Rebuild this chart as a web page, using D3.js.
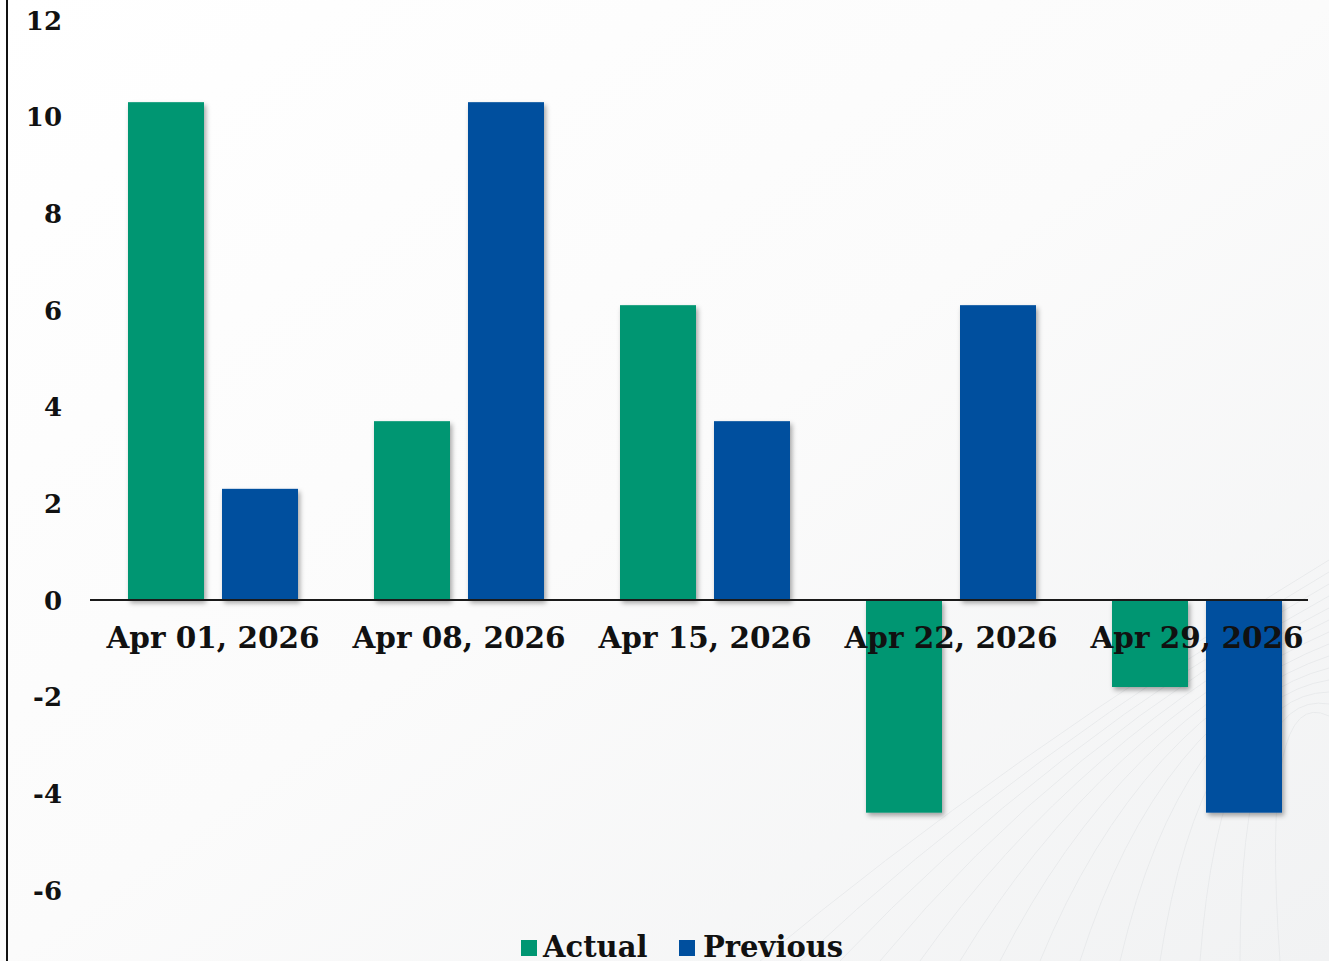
<!DOCTYPE html>
<html><head><meta charset="utf-8">
<script src="https://cdn.jsdelivr.net/npm/d3@7"></script>
<style>html,body{margin:0;padding:0;background:#fff;overflow:hidden}</style>
</head><body>
<svg id="c" width="1329" height="961"></svg>
<script>
const categories = ["Apr 01, 2026","Apr 08, 2026","Apr 15, 2026","Apr 22, 2026","Apr 29, 2026"];
const seriesNames = ["Actual","Previous"];
const actual = [10.3, 3.7, 6.1, -4.4, -1.8];
const previous = [2.3, 10.3, 3.7, 6.1, -4.4];
const yTicks = [12,10,8,6,4,2,0,-2,-4,-6];
const colors = ["#009672","#004f9e"];

const W=1329,H=961;
const svg=d3.select("#c");
const defs=svg.append("defs");
const g1=defs.append("linearGradient").attr("id","bg").attr("x1","0").attr("y1","0").attr("x2","1").attr("y2","1");
g1.append("stop").attr("offset","0").attr("stop-color","#ffffff");
g1.append("stop").attr("offset","0.5").attr("stop-color","#fbfbfb");
g1.append("stop").attr("offset","1").attr("stop-color","#f1f2f3");
const f=defs.append("filter").attr("id","sh").attr("x","-20%").attr("y","-20%").attr("width","150%").attr("height","150%");
f.append("feDropShadow").attr("dx",2).attr("dy",3).attr("stdDeviation",2.5).attr("flood-color","#000").attr("flood-opacity",0.35);

svg.append("rect").attr("width",W).attr("height",H).attr("fill","url(#bg)");
const deco=svg.append("g").attr("fill","none").attr("stroke","#e4e6e8").attr("stroke-width",1).attr("opacity",0.7);
for(let i=0;i<14;i++){
  deco.append("path").attr("d",`M${760+i*40},${961} Q${1000+i*20},${760-i*6} ${1329},${560+i*12}`);
}

const data = seriesNames.map((s,i)=>({name:s, values: i===0?actual:previous}));
const x0=d3.scaleBand().domain(categories).range([90,1320]).paddingInner(0).paddingOuter(0);
const x1=d3.scaleBand().domain(seriesNames).range([38,208]).paddingInner(0.1915).paddingOuter(0);
const y=d3.scaleLinear().domain([-6,12]).range([890,20]);
const font='"DejaVu Serif", Georgia, serif';

const gb=svg.append("g");
categories.forEach((c,ci)=>{
  data.forEach((s,si)=>{
    const v=s.values[ci];
    gb.append("rect").attr("x",x0(c)+x1(s.name)).attr("width",x1.bandwidth())
      .attr("y",y(Math.max(0,v))).attr("height",Math.abs(y(v)-y(0)))
      .attr("fill",colors[si]).attr("filter","url(#sh)");
  });
});

svg.append("line").attr("x1",90).attr("x2",1308).attr("y1",y(0)).attr("y2",y(0)).attr("stroke","#1a1a1a").attr("stroke-width",2);
svg.append("line").attr("x1",7).attr("x2",7).attr("y1",0).attr("y2",H).attr("stroke","#111").attr("stroke-width",2);

const yAxis=d3.axisLeft(y).tickValues(yTicks).tickSize(0).tickPadding(0).tickFormat(d=>String(d));
const ya=svg.append("g").attr("transform","translate(62,0)").call(yAxis);
ya.select(".domain").remove();
ya.selectAll("text").attr("font-family",font).attr("font-weight","bold").attr("font-size",26).attr("fill","#111").attr("dy","0.35em");

const xAxis=d3.axisBottom(x0).tickSize(0).tickPadding(0);
const xa=svg.append("g").attr("transform",`translate(0,${y(0)})`).call(xAxis);
xa.select(".domain").remove();
xa.selectAll("text").attr("font-family",font).attr("font-weight","bold").attr("font-size",29.5).attr("fill","#111").attr("dy","0").attr("y",48);

const lg=svg.append("g");
const legendPos=[{sx:521,tx:543},{sx:679,tx:703}];
seriesNames.forEach((s,i)=>{
  lg.append("rect").attr("x",legendPos[i].sx).attr("y",940).attr("width",16).attr("height",16).attr("fill",colors[i]);
  lg.append("text").attr("x",legendPos[i].tx).attr("y",957).text(s)
    .attr("font-family",font).attr("font-weight","bold").attr("font-size",29).attr("fill","#111");
});
</script>
</body></html>
